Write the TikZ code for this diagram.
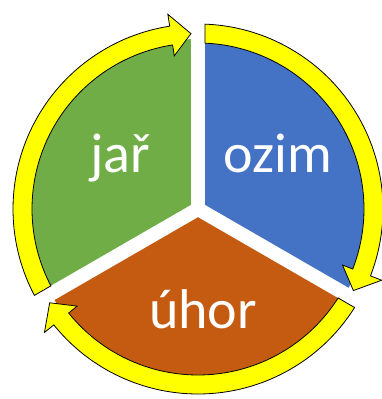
\documentclass[tikz,border=0pt]{standalone}
\usepackage{fontspec}
\setmainfont{Carlito}
\usepackage{tikz}
\usetikzlibrary{calc}
\definecolor{jargreen}{HTML}{70AD47}
\definecolor{ozimblue}{HTML}{4472C4}
\definecolor{uhororange}{HTML}{C55A11}
\definecolor{ringyellow}{HTML}{FFFF00}
\def\rin{166}
\def\rout{185}
\def\rmid{175.5}
\def\hl{6.5}
\newcommand{\sector}[3]{ \fill[#3] (0,0) -- (#1:170) arc[start angle=#1, end angle=#2, radius=170] -- cycle;}
\newcommand{\ringarrow}[2]{ \filldraw[ringarrow] ({#1-asin(7/\rout)}:\rout) arc[start angle={#1-asin(7/\rout)}, end angle={#2+2.3+\hl}, radius=\rout] -- ({#2+2.3+\hl}:\rout+12) -- ({#2+2.3}:\rmid) -- ({#2+2.3+\hl}:\rin-11) -- ({#2+2.3+\hl}:\rin) arc[start angle={#2+2.3+\hl}, end angle={#1-asin(7/\rin)}, radius=\rin] -- cycle;}
\tikzset{
  ringarrow/.style={fill=ringyellow, draw=black, line width=0.8pt, line join=miter},
  gapline/.style={white, line width=14pt, line cap=round},
  label/.style={text=white, font=\fontsize{56}{60}\selectfont, inner sep=0pt}
}
\begin{document}
\begin{tikzpicture}[x=1pt,y=1pt]
\useasboundingbox (-198,-190) rectangle (183,209);
% sectors
\sector{90}{210}{jargreen}
\sector{-30}{90}{ozimblue}
\sector{210}{330}{uhororange}
% gaps
\draw[gapline] (0,0) -- (90:200);
\draw[gapline] (0,0) -- (-30:200);
\draw[gapline] (0,0) -- (210:200);
% ring arrows
\ringarrow{210}{90}
\ringarrow{90}{-30}
\ringarrow{-30}{-150}
% labels
\node[label, anchor=base] (jar) at (-78,37) {jař};
\node[label, anchor=base] (ozim) at (80,37) {ozim};
\node[label, anchor=base] (uhor) at (5,-119) {úhor};
\end{tikzpicture}
\end{document}
